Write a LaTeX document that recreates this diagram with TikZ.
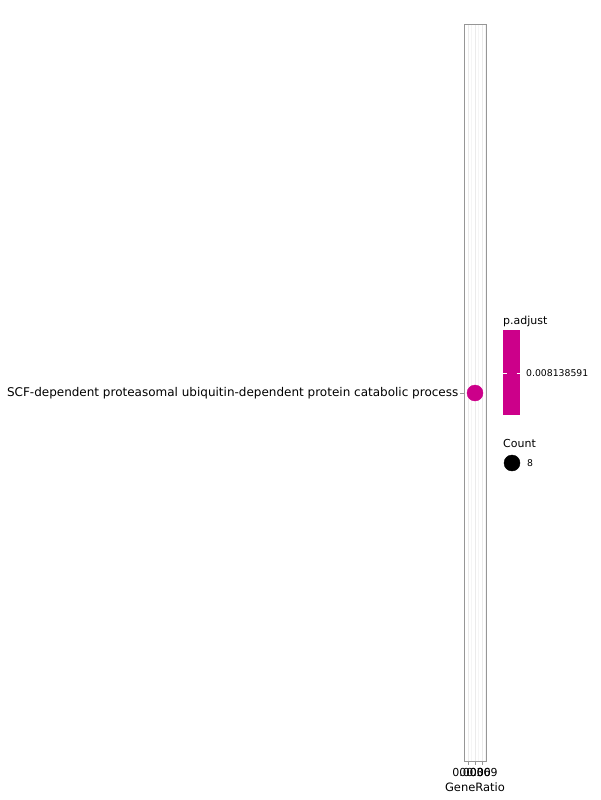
\documentclass[tikz,border=0pt]{standalone}
\usepackage{fontspec}
\setmainfont{DejaVu Sans}
\definecolor{padj}{RGB}{204,0,138}
\definecolor{gridmaj}{RGB}{235,235,235}
\definecolor{gridmin}{RGB}{245,245,245}
\definecolor{frame}{RGB}{150,150,150}
\tikzset{
  axislabel/.style={font=\fontsize{12}{14}\selectfont, inner sep=0pt},
  ticklabel/.style={font=\fontsize{11}{13}\selectfont, inner sep=0pt},
  legendtitle/.style={font=\fontsize{11}{13}\selectfont, inner sep=0pt},
  legendlabel/.style={font=\fontsize{9.3}{11}\selectfont, inner sep=0pt},
}
\begin{document}
\begin{tikzpicture}[x=1pt,y=-1pt]
    \useasboundingbox (0,0) rectangle (600,800);
    % grid
    \foreach \gx in {464.5,471.5,478.5,485.5}
      \draw [gridmin, line width=0.4pt] (\gx,24) -- (\gx,761);
    \foreach \gx in {468,475,482}
      \draw [gridmaj, line width=0.8pt] (\gx,24) -- (\gx,761);
    \draw [frame, line width=0.8pt] (464,24) rectangle (486,761);
    % y axis
    \draw [frame, line width=0.8pt] (460,393) -- (464,393);
    \node (term) [axislabel, anchor=east] at (458.5,393) {SCF-dependent proteasomal ubiquitin-dependent protein catabolic process};
    % x axis
    \foreach \gx/\lab in {468/0.003,475/0.006,482/0.009} {
      \draw [frame, line width=0.8pt] (\gx,761) -- (\gx,765);
      \node [ticklabel, anchor=north] at (\gx,768) {\lab};
    }
    \node (xtitle) [font=\fontsize{11.5}{13}\selectfont, inner sep=0pt, anchor=base] at (475,791.5) {GeneRatio};
    % point
    \filldraw [padj] (475,393) circle [radius=8];
    % legend
    \node (padjtitle) [legendtitle, anchor=base west] at (503,324) {p.adjust};
    \fill [padj] (503,330) rectangle (520,415);
    \draw [white, line width=0.4pt] (503,373) -- (506.5,373);
    \draw [white, line width=0.4pt] (516.5,373) -- (520,373);
    \node (padjval) [legendlabel, anchor=west] at (526,373.5) {0.008138591};
    \node (counttitle) [legendtitle, anchor=base west] at (503,447) {Count};
    \filldraw [black] (512,463) circle [radius=8];
    \node (countval) [legendlabel, anchor=west] at (527,463.5) {8};
  \end{tikzpicture}
\end{document}
